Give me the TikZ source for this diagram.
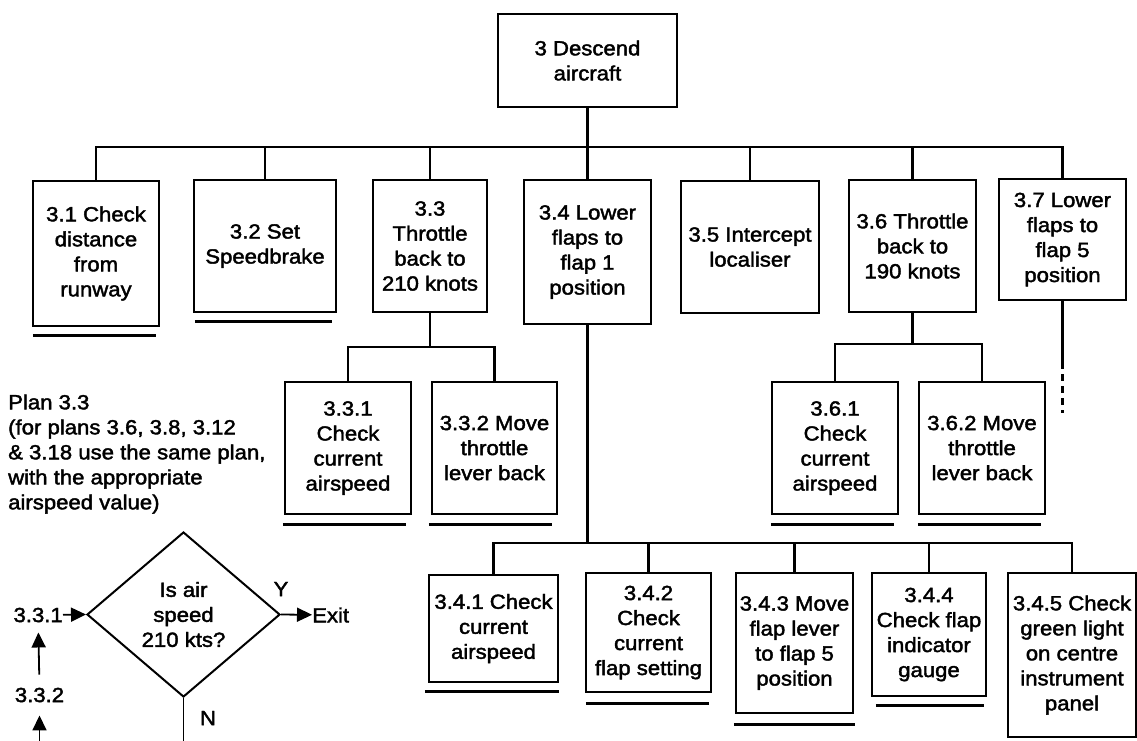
\documentclass[tikz,border=0pt]{standalone}
\usepackage{fontspec}
\setmainfont{Liberation Sans}[FakeStretch=1.08, FakeBold=2]
\usepackage{tikz}
\usetikzlibrary{shapes.geometric}
\usetikzlibrary{arrows.meta}
\newcommand{\taskfont}{\fontsize{20.5}{25}\selectfont}

\begin{document}
\begin{tikzpicture}[
  x=1pt, y=-1pt,
  % task boxes of the hierarchy
  task_box/.style={draw=black, line width=2.4pt, align=center, inner sep=0pt, font=\taskfont},
  % lines joining parent and children
  link_line/.style={draw=black, line width=2.1pt},
  % bar under a box that is not split further
  under_line/.style={draw=black, line width=2.8pt},
  % plan flow chart
  plan_text/.style={align=left, inner sep=0pt, font=\taskfont},
  plan_arrow/.style={draw=black, line width=1.8pt, -{Triangle[length=15pt, width=14pt]}}
]
\useasboundingbox (0,0) rectangle (1137,740);

% top goal and the bus under it
\node[task_box, minimum width=179, minimum height=93] (top) at (587.5,60.5) {3 Descend\\aircraft};
\coordinate (bus1) at (0,147);

% first level
\node[task_box, minimum width=126, minimum height=145] (t31) at (96,253.5)   {3.1 Check\\distance\\from\\runway};
\node[task_box, minimum width=142, minimum height=132] (t32) at (265,246)    {3.2 Set\\Speedbrake};
\node[task_box, minimum width=114, minimum height=132] (t33) at (430,246)    {3.3\\Throttle\\back to\\210 knots};
\node[task_box, minimum width=127, minimum height=144] (t34) at (587.5,252)  {3.4 Lower\\flaps to\\flap 1\\position};
\node[task_box, minimum width=138, minimum height=132] (t35) at (750,247)    {3.5 Intercept\\localiser};
\node[task_box, minimum width=127, minimum height=132] (t36) at (912.5,246)  {3.6 Throttle\\back to\\190 knots};
\node[task_box, minimum width=127, minimum height=121] (t37) at (1062.5,239.5) {3.7 Lower\\flaps to\\flap 5\\position};

% second level under 3.3 and 3.6
\coordinate (bus33) at (0,347);
\coordinate (bus36) at (0,344);
\node[task_box, minimum width=126, minimum height=132] (t331) at (348,448)   {3.3.1\\Check\\current\\airspeed};
\node[task_box, minimum width=125, minimum height=132] (t332) at (494.5,448) {3.3.2 Move\\throttle\\lever back};
\node[task_box, minimum width=126, minimum height=132] (t361) at (835,448)   {3.6.1\\Check\\current\\airspeed};
\node[task_box, minimum width=126, minimum height=132] (t362) at (982,448)   {3.6.2 Move\\throttle\\lever back};

% second level under 3.4
\coordinate (bus34) at (0,543);
\node[task_box, minimum width=129, minimum height=107] (t341) at (493.5,628.5) {3.4.1 Check\\current\\airspeed};
\node[task_box, minimum width=125, minimum height=119] (t342) at (648.5,632.5) {3.4.2\\Check\\current\\flap setting};
\node[task_box, minimum width=117, minimum height=140] (t343) at (794.5,643)   {3.4.3 Move\\flap lever\\to flap 5\\position};
\node[task_box, minimum width=114, minimum height=123] (t344) at (929,634.5)   {3.4.4\\Check flap\\indicator\\gauge};
\node[task_box, minimum width=128, minimum height=164] (t345) at (1072,655)    {3.4.5 Check\\green light\\on centre\\instrument\\panel};

% joining lines
\draw[link_line] (top.south) -- (top.south |- bus1);
\draw[link_line] (t31.north) |- (t37.north |- bus1) -- (t37.north);
\draw[link_line] (t32.north) -- (t32.north |- bus1);
\draw[link_line] (t33.north) -- (t33.north |- bus1);
\draw[link_line] (t34.north) -- (t34.north |- bus1);
\draw[link_line] (t35.north) -- (t35.north |- bus1);
\draw[link_line] (t36.north) -- (t36.north |- bus1);

\draw[link_line] (t33.south) -- (t33.south |- bus33);
\draw[link_line] (t331.north) |- (t332.north |- bus33) -- (t332.north);
\draw[link_line] (t36.south) -- (t36.south |- bus36);
\draw[link_line] (t361.north) |- (t362.north |- bus36) -- (t362.north);

\draw[link_line] (t34.south) -- (t34.south |- bus34);
\draw[link_line] (t341.north) |- (t345.north |- bus34) -- (t345.north);
\draw[link_line] (t342.north) -- (t342.north |- bus34);
\draw[link_line] (t343.north) -- (t343.north |- bus34);
\draw[link_line] (t344.north) -- (t344.north |- bus34);

% 3.7 goes on below, only hinted
\coordinate (t37dash) at (1062.5,362);
\coordinate (t37end) at (1062.5,413);
\draw[link_line] (t37.south) -- (t37dash);
\draw[link_line, dash pattern=on 7pt off 5pt] (t37dash) -- (t37end);

% bars under the bottom tasks
\draw[under_line] ([xshift=1pt,yshift=-8pt]t31.south west) -- ([xshift=-4pt,yshift=-8pt]t31.south east);
\draw[under_line] ([xshift=2pt,yshift=-8pt]t32.south west) -- ([xshift=-5pt,yshift=-8pt]t32.south east);
\draw[under_line] ([xshift=-1pt,yshift=-9pt]t331.south west) -- ([xshift=-6pt,yshift=-9pt]t331.south east);
\draw[under_line] ([xshift=-2pt,yshift=-9pt]t332.south west) -- ([xshift=-6pt,yshift=-9pt]t332.south east);
\draw[under_line] ([yshift=-9pt]t361.south west) -- ([xshift=-5pt,yshift=-9pt]t361.south east);
\draw[under_line] ([yshift=-9pt]t362.south west) -- ([xshift=-5pt,yshift=-9pt]t362.south east);
\draw[under_line] ([xshift=-3pt,yshift=-8pt]t341.south west) -- ([yshift=-8pt]t341.south east);
\draw[under_line] ([xshift=1pt,yshift=-10pt]t342.south west) -- ([xshift=-3pt,yshift=-10pt]t342.south east);
\draw[under_line] ([xshift=-1pt,yshift=-10pt]t343.south west) -- ([xshift=1pt,yshift=-10pt]t343.south east);
\draw[under_line] ([xshift=5pt,yshift=-8pt]t344.south west) -- ([xshift=-3pt,yshift=-8pt]t344.south east);

% plan 3.3
\node[plan_text, anchor=west] (plan) at (8,454) {Plan 3.3\\(for plans 3.6, 3.8, 3.12\\\& 3.18 use the same plan,\\with the appropriate\\airspeed value)};
\node[draw=black, line width=2pt, diamond, aspect=1, inner sep=0pt, minimum width=193, minimum height=165, align=center, font=\taskfont] (dec) at (183.5,614.5) {Is air\\speed\\210 kts?};
\node[plan_text, anchor=east] (l331) at (63,615) {3.3.1};
\node[plan_text] (l332) at (39.5,695) {3.3.2};
\node[plan_text, anchor=west] (exit) at (312,615) {Exit};
\node[plan_text] (yes) at (281,589) {Y};
\node[plan_text] (no) at (208,718) {N};
\coordinate (noend) at (183.5,742);
\coordinate (loopin) at (39.5,742);

\draw[plan_arrow] (l331) -- (dec.west);
\draw[plan_arrow] (dec.east) -- (exit);
\draw[plan_arrow, shorten <=13pt, shorten >=10pt] (l332.north) -- (l331.south);
\draw[plan_arrow, shorten >=13pt] (loopin) -- (l332.south);
\draw[link_line, line width=1.8pt] (dec.south) -- (noend);

\end{tikzpicture}
\end{document}
